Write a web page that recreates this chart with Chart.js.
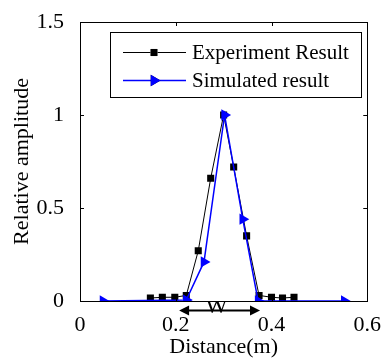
<!DOCTYPE html>
<html>
<head>
<meta charset="utf-8">
<script src="https://cdn.jsdelivr.net/npm/chart.js@4.4.0/dist/chart.umd.min.js"></script>
<style>
  html, body { margin: 0; padding: 0; background: #fff; }
  #wrap { width: 384px; height: 358px; position: relative; }
</style>
</head>
<body>
<div id="wrap"><canvas id="chart"></canvas></div>
<script>
// --- DATA ---
const expX = [0.147, 0.172, 0.198, 0.222, 0.247, 0.273, 0.300, 0.321, 0.348, 0.374, 0.400, 0.423, 0.447];
const expY = [0.016, 0.02, 0.02, 0.03, 0.27, 0.66, 1.0, 0.72, 0.35, 0.03, 0.02, 0.016, 0.02];
const simX = [0.048, 0.222, 0.259, 0.302, 0.340, 0.372, 0.552];
const simY = [0.0, 0.005, 0.21, 1.0, 0.44, 0.0, 0.0];
const xTicks = [0, 0.2, 0.4, 0.6];
const yTicks = [0, 0.5, 1, 1.5];
const seriesNames = ['Experiment Result', 'Simulated result'];
// W marker: span on x axis, drawn just under the axis
const wSpan = [0.207, 0.376];

const serif = '"Liberation Serif", "Times New Roman", serif';

const toPoints = (xs, ys) => xs.map((x, i) => ({ x: x, y: ys[i] }));

// frame, inward ticks, in-plot legend and the W arrow
const extrasPlugin = {
    id: 'extras',
    afterDraw(chart) {
        const { ctx, chartArea: a, scales } = chart;
        const xs = scales.x, ys = scales.y;
        ctx.save();
        ctx.strokeStyle = '#000';
        ctx.lineWidth = 1;
        ctx.strokeRect(Math.round(a.left) + 0.5, Math.round(a.top) + 0.5, Math.round(a.right - a.left), Math.round(a.bottom - a.top));

        const tl = 4;
        ctx.beginPath();
        xTicks.forEach(v => {
            const px = Math.round(xs.getPixelForValue(v)) + 0.5;
            ctx.moveTo(px, a.bottom); ctx.lineTo(px, a.bottom - tl);
            ctx.moveTo(px, a.top); ctx.lineTo(px, a.top + tl);
        });
        yTicks.forEach(v => {
            const py = Math.round(ys.getPixelForValue(v)) + 0.5;
            ctx.moveTo(a.left, py); ctx.lineTo(a.left + tl, py);
            ctx.moveTo(a.right, py); ctx.lineTo(a.right - tl, py);
        });
        ctx.stroke();

        // legend box
        const lx = 110.5, ly = 32.5, lw = 251, lh = 65;
        ctx.fillStyle = '#fff';
        ctx.fillRect(lx, ly, lw, lh);
        ctx.strokeRect(lx, ly, lw, lh);
        ctx.font = '21px ' + serif;
        ctx.textBaseline = 'middle';
        ctx.textAlign = 'left';
        chart.data.datasets.forEach((ds, i) => {
            const ry = [52, 80][i];
            ctx.strokeStyle = ds.borderColor;
            ctx.lineWidth = ds.borderWidth;
            ctx.beginPath();
            ctx.moveTo(123, ry + 0.5); ctx.lineTo(186, ry + 0.5);
            ctx.stroke();
            Chart.helpers.drawPoint(ctx, {
                pointStyle: ds.pointStyle, rotation: ds.pointRotation, radius: ds.pointRadius, borderWidth: 0
            }, 154, ry + 0.5);
            ctx.fillStyle = ds.pointBackgroundColor;
            ctx.fill();
            ctx.fillStyle = '#000';
            ctx.fillText(ds.label, 192, ry + 1);
        });

        // W arrow under the axis
        const x1 = xs.getPixelForValue(wSpan[0]);
        const x2 = xs.getPixelForValue(wSpan[1]);
        const ay = 310.5;
        ctx.strokeStyle = '#000';
        ctx.fillStyle = '#000';
        ctx.lineWidth = 2;
        ctx.beginPath();
        ctx.moveTo(x1 + 6, ay); ctx.lineTo(x2 - 6, ay);
        ctx.stroke();
        ctx.beginPath();
        ctx.moveTo(x1, ay); ctx.lineTo(x1 + 10, ay - 5); ctx.lineTo(x1 + 10, ay + 5); ctx.closePath();
        ctx.moveTo(x2, ay); ctx.lineTo(x2 - 10, ay - 5); ctx.lineTo(x2 - 10, ay + 5); ctx.closePath();
        ctx.fill();

        ctx.save();
        ctx.beginPath();
        ctx.rect(0, a.bottom + 1, chart.width, chart.height);
        ctx.clip();
        ctx.font = '24px ' + serif;
        ctx.textAlign = 'center';
        ctx.textBaseline = 'alphabetic';
        ctx.fillText('W', (x1 + x2) / 2 - 3, 313);
        ctx.restore();

        ctx.restore();
    }
};

new Chart(document.getElementById('chart').getContext('2d'), {
    type: 'scatter',
    data: {
        datasets: [
            {
                label: seriesNames[0],
                data: toPoints(expX, expY),
                showLine: true,
                borderColor: '#000000',
                backgroundColor: '#000000',
                pointBackgroundColor: '#000000',
                borderWidth: 1,
                pointStyle: 'rect',
                pointRotation: 0,
                pointRadius: 5,
                pointBorderWidth: 0,
                order: 1
            },
            {
                label: seriesNames[1],
                data: toPoints(simX, simY),
                showLine: true,
                borderColor: '#0000ff',
                backgroundColor: '#0000ff',
                pointBackgroundColor: '#0000ff',
                borderWidth: 1.5,
                pointStyle: 'triangle',
                pointRotation: 90,
                pointRadius: 6.5,
                pointBorderWidth: 0,
                order: 0
            }
        ]
    },
    options: {
        responsive: true,
        maintainAspectRatio: false,
        animation: false,
        layout: { padding: { top: 22, right: 14, left: 0, bottom: 0 } },
        plugins: {
            legend: { display: false },
            tooltip: { enabled: false }
        },
        scales: {
            x: {
                type: 'linear',
                min: 0, max: 0.6,
                afterBuildTicks: axis => { axis.ticks = xTicks.map(v => ({ value: v })); },
                afterFit: axis => { axis.height = 57; },
                grid: { display: false },
                border: { display: false },
                ticks: {
                    color: '#000', padding: 3, maxRotation: 0,
                    font: { family: serif, size: 22 },
                    callback: v => String(v)
                },
                title: {
                    display: true, text: 'Distance(m)', color: '#000',
                    font: { family: serif, size: 22, lineHeight: 1 },
                    padding: { top: 0, bottom: 0 }
                }
            },
            y: {
                type: 'linear',
                min: 0, max: 1.5,
                afterBuildTicks: axis => { axis.ticks = yTicks.map(v => ({ value: v })); },
                afterFit: axis => { axis.width = 80; },
                grid: { display: false },
                border: { display: false },
                ticks: {
                    color: '#000', padding: 8,
                    font: { family: serif, size: 22 },
                    callback: v => String(v)
                },
                title: {
                    display: true, text: 'Relative amplitude', color: '#000',
                    font: { family: serif, size: 22, lineHeight: 1 },
                    padding: { top: 11, bottom: 0 }
                }
            }
        }
    },
    plugins: [extrasPlugin]
});
</script>
</body>
</html>
